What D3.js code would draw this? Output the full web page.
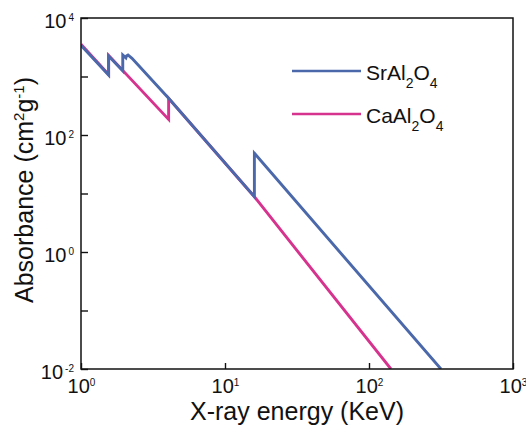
<!DOCTYPE html>
<html>
<head>
<meta charset="utf-8">
<script src="https://cdn.jsdelivr.net/npm/d3@7"></script>
<style>
  body { margin: 0; background: #fff; }
  svg { display: block; font-family: Arial, "Liberation Sans", sans-serif; }
</style>
</head>
<body>
<div id="chart"></div>
<script>
// photon energy (keV) and absorbance (cm2/g)
var srEnergy = [1, 1.555, 1.555, 1.95, 1.95, 2.05, 2.07, 2.12, 2.26, 4.06, 16.0, 16.0, 316];
var srAbs    = [3400, 1060, 2240, 1250, 2330, 2080, 2250, 2330, 2040, 424, 8.8, 48.7, 0.01];

var caEnergy = [1, 1.555, 1.555, 4.06, 4.06, 16.0, 142];
var caAbs    = [3550, 1080, 2300, 185, 424, 8.8, 0.01];

var xTicks = [1, 10, 100, 1000];
var xLabelExp = ["0", "1", "2", "3"];
var yTicks = [1e-2, 1e-1, 1, 10, 100, 1e3, 1e4];
var yLabelExp = {"0.01": "-2", "1": "0", "100": "2", "10000": "4"};

var series = [
  {name: "CaAl", sub1: "2", mid: "O", sub2: "4", energy: caEnergy, abs: caAbs, color: "#d6338f"},
  {name: "SrAl", sub1: "2", mid: "O", sub2: "4", energy: srEnergy, abs: srAbs, color: "#4a68aa"}
];

var W = 526, H = 430;
var pLeft = 81, pRight = 513, pTop = 18, pBottom = 369;

var svg = d3.select("#chart").append("svg")
    .attr("width", W)
    .attr("height", H);

var x = d3.scaleLog().domain([1, 1000]).range([pLeft, pRight]);
var y = d3.scaleLog().domain([0.01, 10000]).range([pBottom, pTop]);

svg.append("clipPath").attr("id", "plotclip")
  .append("rect")
    .attr("x", pLeft).attr("y", pTop)
    .attr("width", pRight - pLeft).attr("height", pBottom - pTop);

var line = d3.line()
    .x(function(d) { return x(d[0]); })
    .y(function(d) { return y(d[1]); });

// magenta first, blue drawn over it
svg.append("g").attr("clip-path", "url(#plotclip)")
  .selectAll("path").data(series).enter().append("path")
    .attr("d", function(s) { return line(d3.zip(s.energy, s.abs)); })
    .attr("fill", "none")
    .attr("stroke", function(s) { return s.color; })
    .attr("stroke-width", 2.9)
    .attr("stroke-linejoin", "miter");

// axes, ticks pointing in
var xAxis = svg.append("g")
    .attr("transform", "translate(0," + pBottom + ")")
    .call(d3.axisBottom(x).tickValues(xTicks).tickSizeInner(-6).tickSizeOuter(0).tickPadding(10).tickFormat(""));

var yAxis = svg.append("g")
    .attr("transform", "translate(" + pLeft + ",0)")
    .call(d3.axisLeft(y).tickValues(yTicks).tickSizeInner(-7).tickSizeOuter(0).tickPadding(7).tickFormat(""));

[xAxis, yAxis].forEach(function(a) {
  a.attr("font-family", null).attr("font-size", null);
  a.select(".domain").remove();
  a.selectAll(".tick line").attr("stroke", "#111").attr("stroke-width", 1.4);
});

// frame
svg.append("rect")
    .attr("x", pLeft).attr("y", pTop)
    .attr("width", pRight - pLeft).attr("height", pBottom - pTop)
    .attr("fill", "none")
    .attr("stroke", "#111")
    .attr("stroke-width", 1.5);

xAxis.selectAll(".tick text").each(function(d, i) {
  var t = d3.select(this)
      .style("font-size", "20px")
      .attr("fill", "#111");
  t.append("tspan").text("10");
  t.append("tspan").style("font-size", "10px").attr("dy", -7).text(xLabelExp[i]);
});

yAxis.selectAll(".tick text").each(function(d) {
  var e = yLabelExp[String(d)];
  if (e === undefined) return;
  var t = d3.select(this)
      .style("font-size", "20px")
      .attr("fill", "#111")
      .attr("dy", "0.45em");
  t.append("tspan").text("10");
  t.append("tspan").style("font-size", "10px").attr("dx", 2).attr("dy", -7).text(e);
});

// axis titles
svg.append("text")
    .attr("x", (pLeft + pRight) / 2)
    .attr("y", 420)
    .attr("text-anchor", "middle")
    .style("font-size", "25px")
    .attr("fill", "#111")
    .text("X-ray energy (KeV)");

var yt = svg.append("text")
    .attr("transform", "translate(33,190) rotate(-90)")
    .attr("text-anchor", "middle")
    .style("font-size", "25px")
    .attr("fill", "#111");
yt.append("tspan").text("Absorbance (cm");
yt.append("tspan").style("font-size", "15px").attr("dy", -9).text("2");
yt.append("tspan").attr("dy", 9).text("g");
yt.append("tspan").style("font-size", "15px").attr("dy", -9).text("-1");
yt.append("tspan").attr("dy", 9).text(")");

// legend
var legend = svg.append("g").selectAll("g")
    .data(series.slice().reverse())
    .enter().append("g")
    .attr("transform", function(d, i) { return "translate(0," + (71 + i * 43) + ")"; });

legend.append("line")
    .attr("x1", 292).attr("x2", 361)
    .attr("stroke", function(d) { return d.color; })
    .attr("stroke-width", 2.5);

var lt = legend.append("text")
    .attr("x", 366)
    .attr("y", 9)
    .style("font-size", "21px")
    .attr("fill", "#111");
lt.append("tspan").text(function(d) { return d.name; });
lt.append("tspan").style("font-size", "14px").attr("dy", 8).text(function(d) { return d.sub1; });
lt.append("tspan").attr("dy", -8).text(function(d) { return d.mid; });
lt.append("tspan").style("font-size", "14px").attr("dy", 8).text(function(d) { return d.sub2; });
</script>
</body>
</html>
